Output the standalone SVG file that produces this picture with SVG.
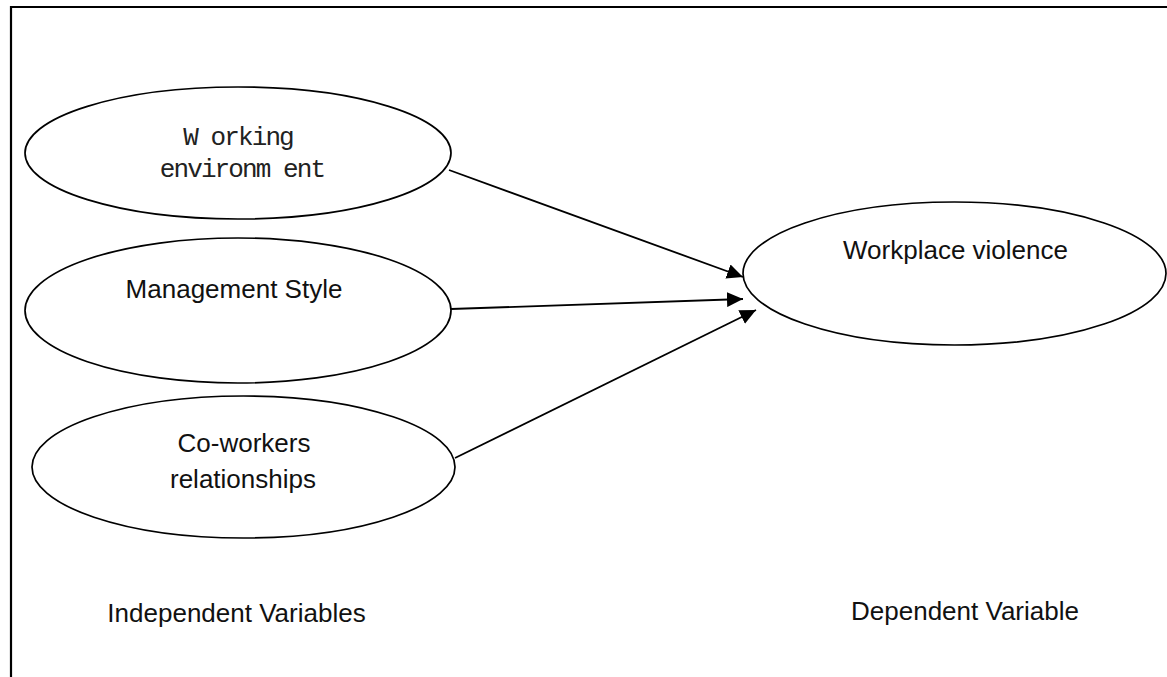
<svg xmlns="http://www.w3.org/2000/svg" width="1167" height="677" viewBox="0 0 1167 677">
  <style>
    .node ellipse { fill: #ffffff; stroke: #000000; stroke-width: 1.7; }
    .lbl { font-family: "Liberation Sans", Arial, sans-serif; font-size: 26px; fill: #111111; text-anchor: middle; }
    .mono { font-family: "Liberation Mono", "Courier New", monospace; font-size: 26px; letter-spacing: -1.9px; fill: #222222; text-anchor: middle; }
    .conn line { stroke: #000000; stroke-width: 1.8; marker-end: url(#arrow); }
    .frame { stroke: #000000; stroke-width: 2.2; fill: none; }
  </style>
  <defs>
    <marker id="arrow" markerUnits="userSpaceOnUse" markerWidth="17" markerHeight="15" refX="16" refY="7.5" orient="auto">
      <path d="M0,0 L16,7.5 L0,15 Z" fill="#000000"/>
    </marker>
  </defs>
  <rect width="1167" height="677" fill="#ffffff"/>
  <path class="frame" d="M11,677 L11,7 L1167,7"/>

  <g id="working-environment" class="node">
    <ellipse cx="238" cy="153" rx="213" ry="66"/>
    <text class="mono" x="238" y="145">W orking</text>
    <text class="mono" x="242" y="177">environm ent</text>
  </g>

  <g id="management-style" class="node">
    <ellipse cx="238" cy="310.5" rx="213" ry="72.5"/>
    <text class="lbl" x="234" y="298">Management Style</text>
  </g>

  <g id="coworkers-relationships" class="node">
    <ellipse cx="243.5" cy="467" rx="211.5" ry="71"/>
    <text class="lbl" x="244" y="452">Co-workers</text>
    <text class="lbl" x="243" y="488">relationships</text>
  </g>

  <g id="workplace-violence" class="node">
    <ellipse cx="954.5" cy="273.5" rx="211.5" ry="71.5"/>
    <text class="lbl" x="955.5" y="259">Workplace violence</text>
  </g>

  <g id="connectors" class="conn">
    <line x1="449" y1="170" x2="743" y2="277"/>
    <line x1="451" y1="309" x2="743" y2="299"/>
    <line x1="455" y1="458" x2="756" y2="310"/>
  </g>

  <g id="captions">
    <text class="lbl" x="236.5" y="622">Independent Variables</text>
    <text class="lbl" x="965" y="620">Dependent Variable</text>
  </g>
</svg>
